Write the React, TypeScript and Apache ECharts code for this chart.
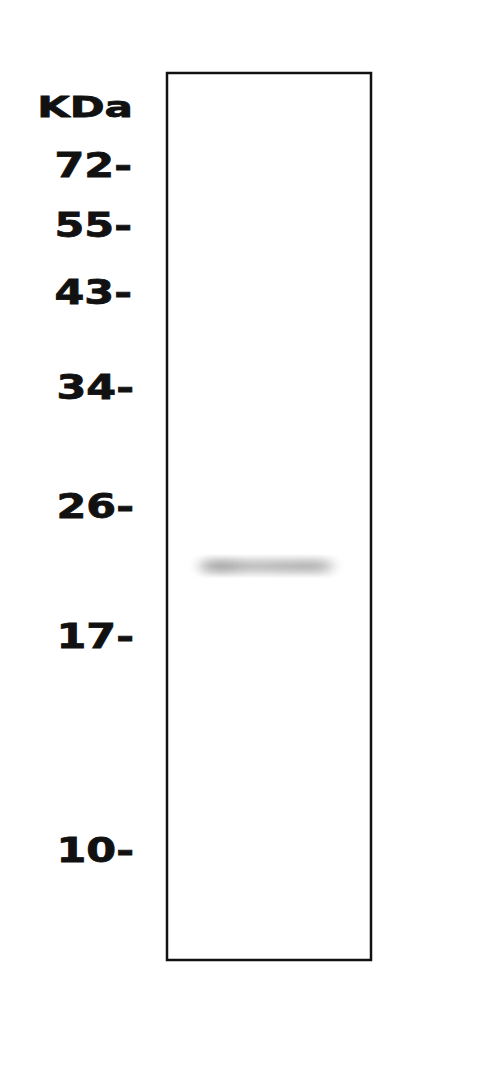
import React from 'react';
import { useEffect, useRef } from 'react';
import * as echarts from 'echarts';

// 分子量标记（kDa）及其在胶上的迁移位置（胶长百分比，自上而下）
const markerLabels = ['72', '55', '43', '34', '26', '17', '10'];
const markerPositions = [10.4, 17.2, 24.7, 35.4, 48.9, 63.5, 87.6];

// 条带：迁移位置 + 沿泳道宽度的灰度剖面
const bandPosition = 55.6;
const bandLaneX = [17, 19, 21, 23, 25, 27, 29, 31, 33, 35, 37, 39, 41, 43, 45, 47, 49, 51, 53, 55, 57, 59, 61, 63, 65, 67, 69, 71, 73, 75, 77, 79, 81];
const bandIntensity = [0.2, 0.3, 0.38, 0.42, 0.44, 0.45, 0.44, 0.42, 0.39, 0.36, 0.34, 0.33, 0.32, 0.32, 0.32, 0.33, 0.33, 0.34, 0.34, 0.35, 0.35, 0.36, 0.36, 0.37, 0.37, 0.38, 0.38, 0.38, 0.37, 0.35, 0.3, 0.22, 0.12];

const FONT = '"DejaVu Sans", Verdana, sans-serif';

const App: React.FC = () => {
  const chartRef = useRef<HTMLDivElement>(null);

  useEffect(() => {
    document.body.style.margin = '0';
    if (!chartRef.current) return;
    const chart = echarts.init(chartRef.current, null, { renderer: 'svg' });

    const option = {
      animation: false,
      backgroundColor: '#ffffff',
      grid: {
        left: 167,
        top: 73,
        width: 204,
        height: 887,
        show: true,
        borderColor: '#111111',
        borderWidth: 2.5,
        backgroundColor: '#ffffff'
      },
      xAxis: {
        type: 'value',
        min: 0,
        max: 100,
        show: false
      },
      yAxis: {
        type: 'value',
        min: 0,
        max: 100,
        inverse: true,
        show: false
      },
      series: [
        {
          type: 'custom',
          clip: true,
          data: bandLaneX.map((x, i) => [x, bandPosition, bandIntensity[i]]),
          renderItem: (params: any, api: any) => {
            const c = api.coord([api.value(0), api.value(1)]);
            const a = api.value(2) * 0.3;
            return {
              type: 'ellipse',
              shape: { cx: c[0], cy: c[1], rx: 14, ry: 13 },
              style: {
                fill: new echarts.graphic.RadialGradient(0.5, 0.5, 0.5, [
                  { offset: 0, color: `rgba(50, 50, 50, ${a})` },
                  { offset: 0.5, color: `rgba(50, 50, 50, ${a * 0.5})` },
                  { offset: 1, color: 'rgba(50, 50, 50, 0)' }
                ])
              }
            };
          }
        }
      ]
    };

    chart.setOption(option);

    // 分子量标签：位置由 y 轴换算
    const labelRight = 132;
    const graphics: any[] = markerLabels.map((label, i) => ({
      type: 'text',
      x: labelRight + (i >= 3 ? 2 : 0),
      y: chart.convertToPixel({ yAxisIndex: 0 }, markerPositions[i]) as number,
      scaleX: 1.3,
      style: {
        text: label + '-',
        fontFamily: FONT,
        fontWeight: 'bold',
        fontSize: 33,
        fill: '#111111',
        stroke: '#111111',
        lineWidth: 0.8,
        align: 'right',
        verticalAlign: 'middle'
      }
    }));
    graphics.push({
      type: 'text',
      x: labelRight + 1,
      y: 107,
      scaleX: 1.45,
      style: {
        text: 'KDa',
        fontFamily: FONT,
        fontWeight: 'bold',
        fontSize: 29,
        fill: '#111111',
        stroke: '#111111',
        lineWidth: 0.8,
        align: 'right',
        verticalAlign: 'middle'
      }
    });
    chart.setOption({ graphic: graphics });

    return () => {
      chart.dispose();
    };
  }, []);

  return <div ref={chartRef} style={{ width: '500px', height: '1085px' }}></div>;
};

export default App;
